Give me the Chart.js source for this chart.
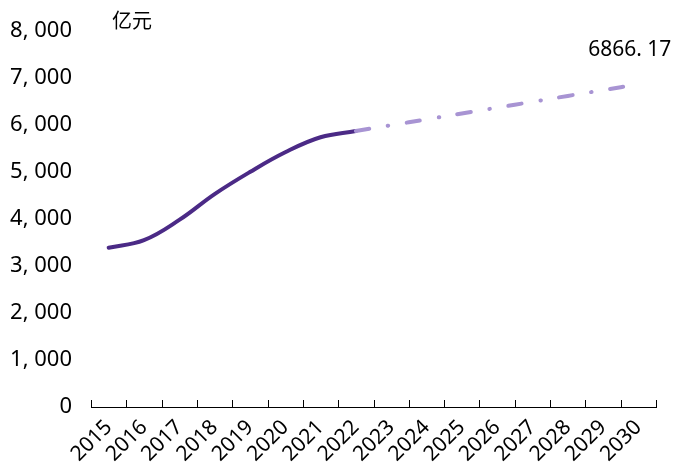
<!DOCTYPE html>
<html lang="zh">
<head>
  <meta charset="UTF-8">
  <title>市场规模</title>
  <script src="https://cdn.jsdelivr.net/npm/chart.js"></script>
  <style>
    html, body { margin: 0; padding: 0; background: #fff; }
    #wrap { width: 676px; height: 466px; position: relative; }
  </style>
</head>
<body>
  <div id="wrap"><canvas id="chart"></canvas></div>

  <script>
    const years = ["2015", "2016", "2017", "2018", "2019", "2020", "2021", "2022",
                   "2023", "2024", "2025", "2026", "2027", "2028", "2029", "2030"];
    // actual values (亿元), 2015-2022
    const actual = [3390, 3550, 3980, 4530, 5000, 5420, 5740, 5872,
                    null, null, null, null, null, null, null, null];
    // forecast, 2022-2030
    const forecast = [null, null, null, null, null, null, null, 5872,
                      5996, 6120, 6245, 6369, 6493, 6618, 6742, 6866.17];
    const yTicks = [0, 1000, 2000, 3000, 4000, 5000, 6000, 7000, 8000];
    const unitLabel = "亿元";
    const endLabel = "6866. 17";

    const font = "'Noto Sans', 'Noto Sans CJK SC', sans-serif";

    // inward tick marks on the category boundaries + text labels
    const extras = {
      id: "extras",
      afterDraw(chart) {
        const ctx = chart.ctx;
        const x = chart.scales.x;
        const y = chart.scales.y;
        const bottom = chart.chartArea.bottom;
        ctx.save();
        ctx.strokeStyle = "#000";
        ctx.lineWidth = 1;
        ctx.beginPath();
        for (let i = 0; i <= years.length; i++) {
          const px = Math.round(x.getPixelForValue(i - 0.5)) + 0.5;
          ctx.moveTo(px, bottom);
          ctx.lineTo(px, bottom - 7);
        }
        ctx.stroke();

        ctx.fillStyle = "#000";
        ctx.font = "20px 'Noto Sans CJK SC', sans-serif";
        ctx.textBaseline = "middle";
        ctx.textAlign = "left";
        ctx.fillText(unitLabel, 112, y.getPixelForValue(8220));

        ctx.font = "21px " + font;
        ctx.textAlign = "right";
        const last = years.length - 1;
        ctx.fillText(endLabel, x.getPixelForValue(last) + 33, y.getPixelForValue(forecast[last]) - 34);
        ctx.restore();
      }
    };

    new Chart(document.getElementById("chart"), {
      type: "line",
      data: {
        labels: years,
        datasets: [
          {
            data: forecast,
            borderColor: "#a894d3",
            borderWidth: 4,
            borderDash: [13.5, 19, 0.5, 18.5],
            borderCapStyle: "round",
            tension: 0.4,
            pointRadius: 0,
            fill: false
          },
          {
            data: actual,
            borderColor: "#4b2a86",
            borderWidth: 4,
            borderCapStyle: "round",
            tension: 0.4,
            pointRadius: 0,
            fill: false
          }
        ]
      },
      options: {
        responsive: true,
        maintainAspectRatio: false,
        animation: false,
        layout: { padding: { top: 31, right: 20, left: 0, bottom: 0 } },
        plugins: { legend: { display: false }, tooltip: { enabled: false } },
        scales: {
          x: {
            type: "category",
            offset: true,
            grid: { display: false, offset: true },
            border: { display: true, color: "#000", width: 1 },
            ticks: {
              color: "#000",
              font: { size: 21, family: font },
              minRotation: 45,
              maxRotation: 45,
              autoSkip: false,
              padding: 0
            },
            afterFit(scale) { scale.height = 59; }
          },
          y: {
            min: 0,
            max: 8000,
            grid: { display: false },
            border: { display: false },
            afterBuildTicks(scale) { scale.ticks = yTicks.map(v => ({ value: v })); },
            ticks: {
              color: "#000",
              font: { size: 22, family: font },
              padding: 11,
              callback: v => v.toLocaleString("en-US").replace(",", ", ")
            },
            afterFit(scale) { scale.width = 91; }
          }
        }
      },
      plugins: [extras]
    });
  </script>
</body>
</html>
